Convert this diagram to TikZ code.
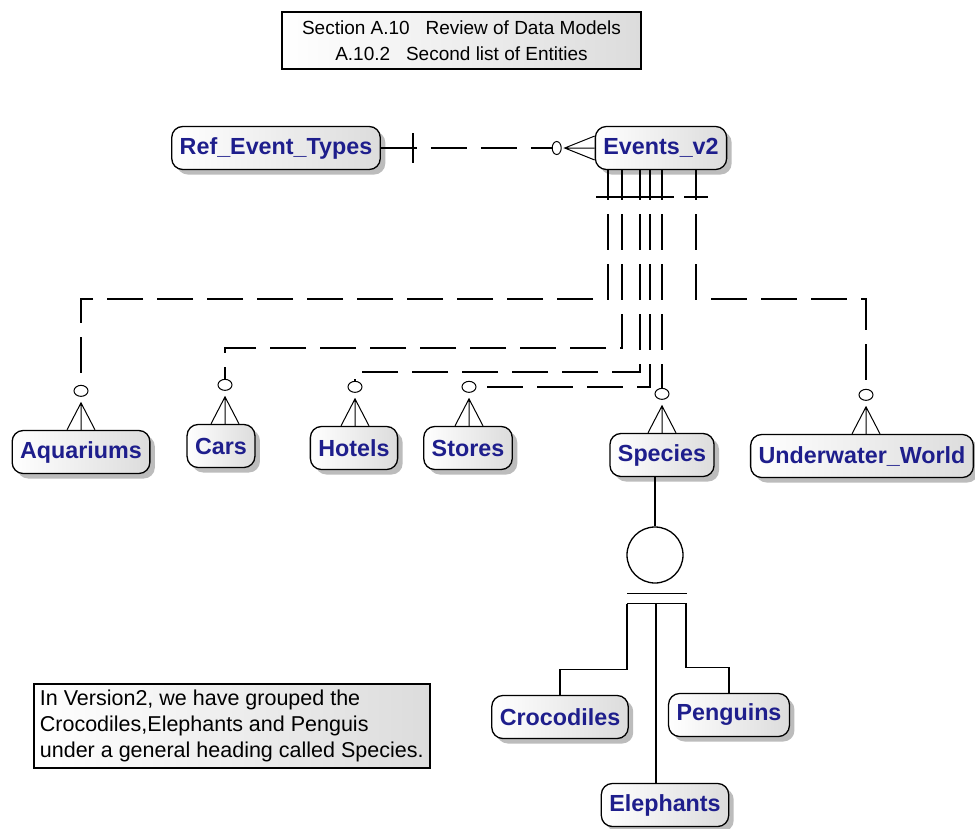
\documentclass[tikz,border=0pt]{standalone}
\usepackage{fontspec}
\setmainfont{Liberation Sans}
\usepackage{xcolor}
\usepackage{tikz}
\usetikzlibrary{calc,shadows}
\definecolor{erdnavy}{RGB}{30,30,140}
\definecolor{erdshade}{RGB}{220,220,220}
\definecolor{erdshadow}{RGB}{188,188,188}

\begin{document}
\begin{tikzpicture}[x=1pt,y=-1pt,line width=1.3pt,
  entity/.style={draw,rounded corners=11pt,left color=white,right color=erdshade,
    drop shadow={shadow xshift=5pt,shadow yshift=-5pt,fill=erdshadow,opacity=1},
    minimum height=43pt,inner xsep=8pt,text=erdnavy,
    font=\fontsize{23.3}{26}\selectfont\bfseries},
  panel/.style={draw,line width=1.5pt,left color=white,right color=erdshade},
  rel/.style={dash pattern=on 36pt off 14pt,dash phase=6pt},
  foot/.style={line width=1pt}]
\path[use as bounding box,fill=white] (0,0) rectangle (975,828);
% ---------------- heading and note ----------------
\node[panel,minimum width=359pt,minimum height=57pt,align=center,
  font=\fontsize{19}{25.5}\selectfont] (title) at (461.5,40.5)
  {Section A.10\ \ \ Review of Data Models\\A.10.2\ \ \ Second list of Entities};
\node[panel,anchor=north west,minimum width=396pt,minimum height=84pt,
  inner xsep=3pt,align=left,font=\fontsize{21.5}{26}\selectfont] (note) at (33,683)
  {In Version2, we have grouped the\\Crocodiles,Elephants and Penguis\\under a general heading called Species.};
% ---------------- entities ----------------
\node[entity] (ref) at (276,148) {Ref\_Event\_Types};
\node[entity] (ev) at (661,148) {Events\_v2};
\node[entity] (aq) at (81,452) {Aquariums};
\node[entity] (ca) at (221,446) {Cars};
\node[entity] (ho) at (354,448) {Hotels};
\node[entity] (st) at (468,448) {Stores};
\node[entity] (sp) at (662,455) {Species};
\node[entity] (uw) at (862,456) {Underwater\_World};
\node[entity] (cr) at (560,717) {Crocodiles};
\node[entity] (pe) at (729,715) {Penguins};
\node[entity] (el) at (665,805) {Elephants};
% ---------------- Ref_Event_Types to Events_v2 ----------------
\coordinate (rfo) at ([xshift=-38pt]ev.west);
\draw[rel,dash phase=0pt] (ref.east) -- ([xshift=-4.5pt]rfo);
\draw ([xshift=32pt,yshift=15pt]ref.east) -- ([xshift=32pt,yshift=-15pt]ref.east);
\draw[foot] (rfo) ellipse (4.5pt and 6.5pt);
\draw[foot] ([yshift=12pt]ev.west) -- ([xshift=8pt]rfo) -- ([yshift=-12pt]ev.west)
  ([xshift=8pt]rfo) -- (ev.west);
% ---------------- one ends under Events_v2 ----------------
\foreach \x [count=\i] in {608,622,640,650,662,696}{
  \coordinate (ev\i) at (\x,170);
  \draw ([xshift=-12pt,yshift=-27pt]ev\i) -- ([xshift=12pt,yshift=-27pt]ev\i);}
% ---------------- many ends over the entities ----------------
\foreach \n/\dx in {aq/0pt,ca/4pt,ho/1pt,st/1pt,sp/0pt,uw/4pt}{
  \coordinate (\n-o) at ([xshift=\dx,yshift=39pt]\n.north);
  \coordinate (\n-c) at ([xshift=\dx,yshift=44.5pt]\n.north);
  \coordinate (\n-a) at ([xshift=\dx,yshift=27pt]\n.north);
  \draw[foot] (\n-o) ellipse (7pt and 5.5pt);
  \draw[foot] ([xshift=\dx-14pt]\n.north) -- (\n-a) -- ([xshift=\dx+14pt]\n.north)
    (\n-a) -- ([xshift=\dx]\n.north);}
\draw[rel] (ev1) -- ++(0,129) -| (aq-c);
\draw[rel] (ev2) -- ++(0,178) -| (ca-c);
\draw[rel] (ev3) -- ++(0,202) -| (ho-c);
\draw[rel] (ev4) |- ([xshift=7pt]st-o);
\draw[rel] (ev5) -- (sp-c);
\draw[rel] (ev6) -- ++(0,129) -| (uw-c);
% ---------------- Species subtypes ----------------
\node[draw,circle,minimum size=56pt,inner sep=0pt] (cat) at (655,555) {};
\draw (cat.north |- sp.south) -- (cat.north);
\coordinate (cb1) at ([yshift=-10pt]cat.south);
\coordinate (cb2) at ([yshift=-20pt]cat.south);
\draw ([xshift=-28pt]cb1) -- ([xshift=32pt]cb1) ([xshift=-28pt]cb2) -- ([xshift=32pt]cb2);
\draw ([xshift=-28pt]cb2) -- ++(0,66) -| (cr.north);
\draw ([xshift=31pt]cb2) -- ++(0,64) -| (pe.north);
\coordinate (elin) at ([xshift=-9pt]el.north);
\draw (elin |- cb2) -- (elin);
\end{tikzpicture}
\end{document}
